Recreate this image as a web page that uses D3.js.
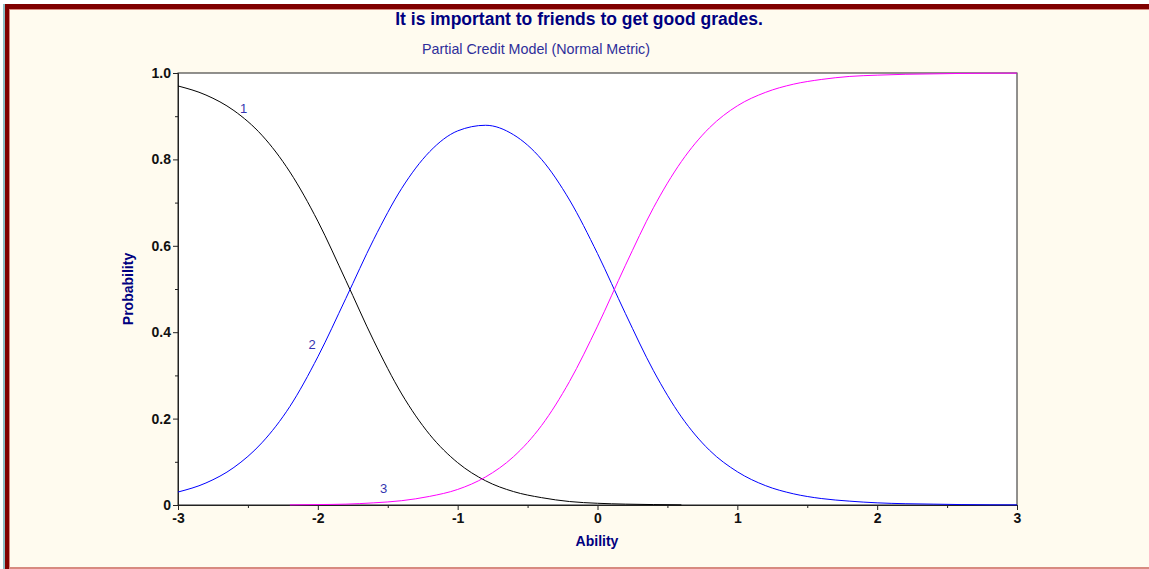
<!DOCTYPE html>
<html>
<head>
<meta charset="utf-8">
<script src="https://cdn.jsdelivr.net/npm/d3@7"></script>
<style>
  body { margin: 0; background: #ffffff; }
  svg { display: block; font-family: Arial, "Liberation Sans", sans-serif; }
</style>
</head>
<body>
<div id="chart"></div>
<script>
// ability values (x) and probability of each category
var ability = [-3.0, -2.8, -2.6, -2.4, -2.2, -2.0, -1.8, -1.6, -1.4, -1.2, -1.0,
  -0.8, -0.6, -0.4, -0.2, 0.0, 0.2, 0.4, 0.6, 0.8, 1.0, 1.2, 1.4, 1.6, 1.8, 2.0,
  2.2, 2.4, 2.6, 2.8, 3.0];

var cat1 = [0.970, 0.949, 0.913, 0.856, 0.771, 0.657, 0.520, 0.380, 0.257, 0.163, 0.098,
  0.056, 0.031, 0.017, 0.008, 0.004, 0.002, 0.001, 0.0003, null, null, null, null, null, null, null,
  null, null, null, null, null];

var cat2 = [0.030, 0.051, 0.087, 0.144, 0.228, 0.343, 0.478, 0.615, 0.733, 0.818, 0.866,
  0.879, 0.857, 0.800, 0.706, 0.582, 0.443, 0.311, 0.204, 0.127, 0.077, 0.045, 0.026, 0.015, 0.009, 0.005,
  0.003, 0.002, 0.001, 0.0005, 0.0003];

var cat3 = [null, null, null, null, 0.0003, 0.001, 0.002, 0.005, 0.010, 0.020, 0.036,
  0.065, 0.112, 0.184, 0.286, 0.414, 0.555, 0.688, 0.795, 0.873, 0.924, 0.955, 0.974, 0.985, 0.992, 0.995,
  0.997, 0.998, 0.999, 0.9995, 0.9997];

var seriesNames = ["1", "2", "3"];
var seriesColors = ["#000000", "#0000ff", "#ff00ff"];
// where the little category numbers sit (ability, probability)
var labelPos = [[-2.53, 0.908], [-2.04, 0.36], [-1.53, 0.028]];

var xTicks = [-3, -2, -1, 0, 1, 2, 3];
var yTicks = [0, 0.2, 0.4, 0.6, 0.8, 1.0];
var xMinor = [-2.5, -1.5, -0.5, 0.5, 1.5, 2.5];
var yMinor = [0.1, 0.3, 0.5, 0.7, 0.9];

var W = 1149, H = 569;
var plot = {left: 178, right: 1017, top: 73, bottom: 505};

var svg = d3.select("#chart")
  .append("svg")
  .attr("width", W)
  .attr("height", H);

// window frame
svg.append("rect").attr("x", 0).attr("y", 0).attr("width", W).attr("height", H).attr("fill", "#ffffff");
svg.append("rect").attr("x", 3).attr("y", 4).attr("width", 2).attr("height", H - 4).attr("fill", "#8cbcc4");
svg.append("rect").attr("x", 5).attr("y", 4).attr("width", W - 5).attr("height", H - 4).attr("fill", "#800000");
svg.append("rect").attr("x", 9).attr("y", 9).attr("width", W - 9).attr("height", H - 9).attr("fill", "#d88a80");
svg.append("rect").attr("x", 10).attr("y", 10).attr("width", W - 10).attr("height", H - 12).attr("fill", "#fffbef");

// plot area
svg.append("rect")
  .attr("x", plot.left).attr("y", plot.top)
  .attr("width", plot.right - plot.left).attr("height", plot.bottom - plot.top)
  .attr("fill", "#ffffff")
  .attr("stroke", "#222")
  .attr("stroke-width", 1);

var x = d3.scaleLinear().domain([-3, 3]).range([plot.left, plot.right]);
var y = d3.scaleLinear().domain([0, 1]).range([plot.bottom, plot.top]);

// X axis (plain hyphen for negatives, like the original)
svg.append("g")
  .attr("transform", "translate(0," + plot.bottom + ")")
  .call(d3.axisBottom(x).tickValues(xTicks).tickFormat(function(d) { return String(d); })
    .tickSizeOuter(0).tickSize(5).tickPadding(3));
svg.append("g")
  .attr("transform", "translate(0," + plot.bottom + ")")
  .call(d3.axisBottom(x).tickValues(xMinor).tickFormat("").tickSizeOuter(0).tickSize(3))
  .select(".domain").remove();

// Y axis
svg.append("g")
  .attr("transform", "translate(" + plot.left + ",0)")
  .call(d3.axisLeft(y).tickValues(yTicks).tickFormat(function(d) { return d === 0 ? "0" : d.toFixed(1); })
    .tickSizeOuter(0).tickSize(5).tickPadding(2));
svg.append("g")
  .attr("transform", "translate(" + plot.left + ",0)")
  .call(d3.axisLeft(y).tickValues(yMinor).tickFormat("").tickSizeOuter(0).tickSize(3))
  .select(".domain").remove();

svg.selectAll(".tick line").attr("stroke", "#222");
svg.selectAll(".domain").attr("stroke", "#222");
svg.selectAll(".tick text")
  .attr("fill", "#111")
  .style("font-size", "14px")
  .style("font-weight", "bold")
  .style("font-family", "Arial, 'Liberation Sans', sans-serif");

// curves
var allSeries = [cat1, cat2, cat3];
var line = d3.line()
  .defined(function(d) { return d[1] !== null; })
  .x(function(d) { return x(d[0]); })
  .y(function(d) { return y(d[1]); })
  .curve(d3.curveMonotoneX);

allSeries.forEach(function(vals, i) {
  var pts = ability.map(function(a, j) { return [a, vals[j]]; });
  svg.append("path")
    .datum(pts)
    .attr("d", line)
    .attr("fill", "none")
    .attr("stroke", seriesColors[i])
    .attr("stroke-width", 1);
});

// category numbers
svg.selectAll(".catlabel")
  .data(labelPos)
  .enter()
  .append("text")
  .attr("x", function(d) { return x(d[0]); })
  .attr("y", function(d) { return y(d[1]); })
  .attr("text-anchor", "middle")
  .attr("fill", "#3535b0")
  .style("font-size", "13px")
  .text(function(d, i) { return seriesNames[i]; });

// titles
svg.append("text")
  .attr("x", 579).attr("y", 25)
  .attr("text-anchor", "middle")
  .attr("fill", "#000080")
  .style("font-size", "17.5px")
  .style("font-weight", "bold")
  .text("It is important to friends to get good grades.");

svg.append("text")
  .attr("x", 536).attr("y", 54)
  .attr("text-anchor", "middle")
  .attr("fill", "#2e2e9a")
  .style("font-size", "14.3px")
  .text("Partial Credit Model (Normal Metric)");

// axis titles
svg.append("text")
  .attr("x", 597).attr("y", 546)
  .attr("text-anchor", "middle")
  .attr("fill", "#000080")
  .style("font-size", "14px")
  .style("font-weight", "bold")
  .text("Ability");

svg.append("text")
  .attr("transform", "translate(133,289) rotate(-90)")
  .attr("text-anchor", "middle")
  .attr("fill", "#000080")
  .style("font-size", "14px")
  .style("font-weight", "bold")
  .text("Probability");
</script>
</body>
</html>
